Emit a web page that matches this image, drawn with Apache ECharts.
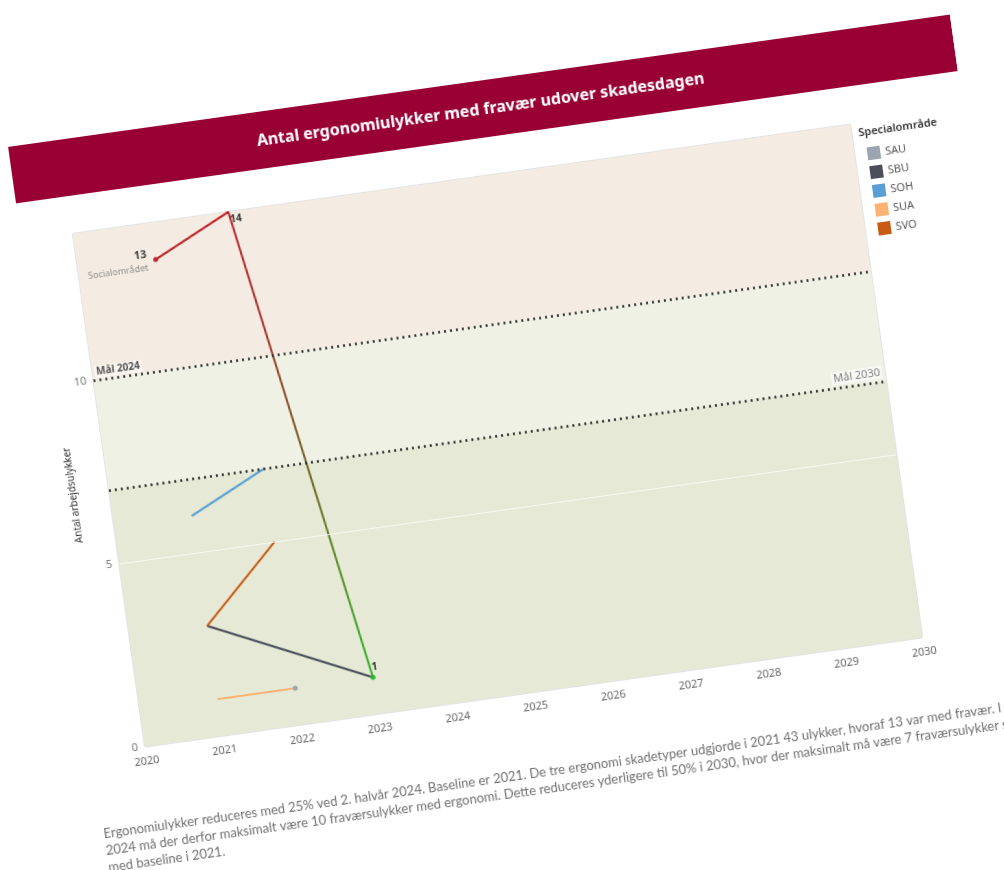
<!DOCTYPE html>
<html>
<head>
<meta charset="utf-8">
<script src="https://cdn.jsdelivr.net/npm/echarts@6/dist/echarts.min.js"></script>
<style>
  html, body { margin: 0; padding: 0; background: #fff; overflow: hidden; }
  /* the reference is a tilted photo of the dashboard, so the whole chart is turned */
  #chart {
    position: absolute; left: 0; top: 0;
    width: 1004px; height: 870px;
    transform-origin: 502px 435px;
    transform: rotate(-8deg);
  }
</style>
</head>
<body>
<div id="chart"></div>
<script>
const years = ['2020', '2021', '2022', '2023', '2024', '2025', '2026', '2027', '2028', '2029', '2030'];

const sau = [null, null, 1, null, null, null, null, null, null, null, null];
const sbu = [null, 3, null, 1, null, null, null, null, null, null, null];
const soh = [null, 6, 7, null, null, null, null, null, null, null, null];
const sua = [null, 1, 1, null, null, null, null, null, null, null, null];
const svo = [null, 3, 5, null, null, null, null, null, null, null, null];
const socialomraadet = [null, 13, 14, 1, null, null, null, null, null, null, null];

const specialNames = ['SAU', 'SBU', 'SOH', 'SUA', 'SVO'];
const specialColors = ['#9ba5b0', '#4a4f5a', '#5a9fd4', '#fdb472', '#c95a14'];

const maal2024 = 10;
const maal2030 = 7;
const yMax = 14;

const noteLines = [
  'Ergonomiulykker reduceres med 25% ved 2. halvår 2024. Baseline er 2021. De tre ergonomi skadetyper udgjorde i 2021 43 ulykker, hvoraf 13 var med fravær. I',
  '2024 må der derfor maksimalt være 10 fraværsulykker med ergonomi. Dette reduceres yderligere til 50% i 2030, hvor der maksimalt må være 7 fraværsulykker sammenlignet',
  'med baseline i 2021.'
];

const font = 'Noto Sans';
const myChart = echarts.init(document.getElementById('chart'));

// labels on the total line: start, peak and last point
const socialData = socialomraadet.map((v, i) => {
  if (v === null) return null;
  if (i === 1) {
    return {
      value: v,
      label: {
        show: true, position: 'left', distance: 6,
        formatter: '{a|' + v + '}\n{b|Socialområdet}',
        rich: {
          a: { fontSize: 11, fontWeight: 'bold', color: '#444', lineHeight: 14, align: 'right', padding: [0, 0, 0, 0], fontFamily: font },
          b: { fontSize: 9, color: '#8c8c8c', lineHeight: 12, align: 'right', fontFamily: font }
        }
      }
    };
  }
  if (i === 2) {
    return {
      value: v, symbolSize: 0,
      label: { show: true, position: 'right', distance: 1, offset: [0, 8], formatter: String(v), fontSize: 10, fontWeight: 'bold', color: '#333', fontFamily: font }
    };
  }
  return {
    value: v,
    label: { show: true, position: 'top', distance: 2, offset: [3, 0], formatter: String(v), fontSize: 10, fontWeight: 'bold', color: '#333', fontFamily: font }
  };
});

const specialData = [sau, sbu, soh, sua, svo];
const specialSeries = specialNames.map((name, i) => ({
  name: name,
  type: 'line',
  z: 3,
  data: specialData[i],
  connectNulls: true,
  showSymbol: name === 'SAU',
  symbol: 'circle',
  symbolSize: 5,
  color: specialColors[i],
  lineStyle: { width: 2 },
  emphasis: { disabled: true }
}));

const option = {
  animation: false,
  textStyle: { fontFamily: font },
  grid: {
    left: 105, right: 114, top: 176, bottom: 176,
    show: true, borderColor: '#c8c8c8', borderWidth: 1, backgroundColor: 'transparent'
  },
  legend: {
    data: specialNames,
    orient: 'vertical',
    left: 898, top: 196,
    icon: 'rect',
    itemWidth: 13, itemHeight: 13, itemGap: 6,
    textStyle: { fontSize: 11, color: '#555', fontFamily: font }
  },
  visualMap: {
    show: false,
    type: 'continuous',
    seriesIndex: 7,
    min: 1, max: yMax,
    inRange: { color: ['#2db52d', '#5c8a24', '#7a5a24', '#a8352a', '#c21f2b'] }
  },
  graphic: [
    { type: 'rect', shape: { x: 53, y: 81, width: 951, height: 57 }, style: { fill: '#990034' } },
    {
      type: 'text', x: 526, y: 110,
      style: { text: 'Antal ergonomiulykker med fravær udover skadesdagen', fill: '#fff', font: 'bold 16px "Noto Sans"', align: 'center', verticalAlign: 'middle' }
    },
    {
      type: 'text', x: 897, y: 186,
      style: { text: 'Specialområde', fill: '#333', font: '600 11px "Noto Sans"', align: 'left', verticalAlign: 'middle' }
    },
    ...noteLines.map((t, i) => ({
      type: 'text', x: 52, y: 775 + i * 17,
      style: { text: t, fill: '#707070', font: '13px Lato', align: 'left', verticalAlign: 'middle' }
    }))
  ],
  xAxis: {
    type: 'category',
    data: years,
    boundaryGap: false,
    axisLine: { show: false },
    axisTick: { show: false },
    axisLabel: { interval: 0, margin: 9, fontSize: 11, color: '#666' },
    splitLine: { show: false }
  },
  yAxis: {
    type: 'value',
    min: 0, max: yMax, interval: 5,
    name: 'Antal arbejdsulykker',
    nameLocation: 'middle',
    nameGap: 24,
    nameTextStyle: { fontSize: 10, color: '#333' },
    axisLine: { show: false },
    axisTick: { show: false },
    axisLabel: { margin: 7, fontSize: 11, color: '#777', formatter: v => (v % 5 === 0 ? v : '') },
    splitLine: { show: false }
  },
  series: [
    {
      name: 'bands', type: 'line', z: 1, silent: true,
      data: years.map(() => null),
      markArea: {
        silent: true,
        data: [
          [{ yAxis: maal2024, itemStyle: { color: '#f4ece2' } }, { yAxis: yMax }],
          [{ yAxis: maal2030, itemStyle: { color: '#eef1e4' } }, { yAxis: maal2024 }],
          [{ yAxis: 0, itemStyle: { color: '#e5e9d6' } }, { yAxis: maal2030 }]
        ]
      }
    },
    {
      name: 'goals', type: 'line', z: 2, silent: true,
      data: years.map(() => null),
      markLine: {
        silent: true,
        symbol: 'none',
        data: [
          { yAxis: 5, lineStyle: { color: '#ffffff', width: 1, type: 'solid', opacity: 0.7 }, label: { show: false } },
          {
            yAxis: maal2024,
            lineStyle: { color: '#2f2f2f', width: 2.5, type: [2, 4] },
            label: { show: true, position: 'insideStartTop', distance: 2, formatter: 'Mål 2024', fontSize: 10, fontWeight: 'bold', color: '#555', backgroundColor: 'rgba(255,255,255,0.5)', padding: [1, 2] }
          },
          {
            yAxis: maal2030,
            lineStyle: { color: '#2f2f2f', width: 2.5, type: [2, 4] },
            label: { show: true, position: 'insideEndTop', distance: 3, formatter: 'Mål 2030', fontSize: 11, color: '#808080', backgroundColor: 'rgba(255,255,255,0.6)', padding: [1, 2] }
          }
        ]
      }
    },
    ...specialSeries,
    {
      name: 'Socialområdet',
      type: 'line',
      z: 4,
      data: socialData,
      showSymbol: true,
      symbol: 'circle',
      symbolSize: 5,
      lineStyle: { width: 2 },
      emphasis: { disabled: true }
    }
  ]
};

myChart.setOption(option);
</script>
</body>
</html>
